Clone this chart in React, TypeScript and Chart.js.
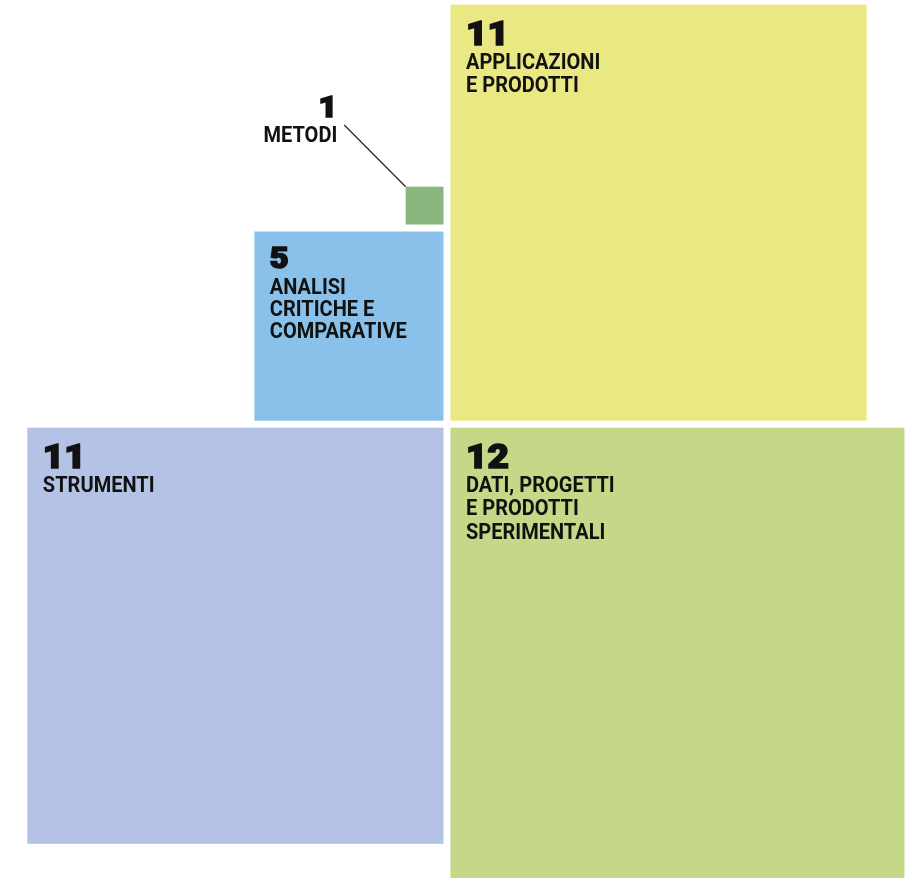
import React, { useEffect, useRef } from "react";
import { Chart, registerables } from "chart.js";
Chart.register(...registerables);

// ---- data ----
const categories = [
  "METODI",
  "ANALISI CRITICHE E COMPARATIVE",
  "APPLICAZIONI E PRODOTTI",
  "STRUMENTI",
  "DATI, PROGETTI E PRODOTTI SPERIMENTALI",
];
const labelLines = [
  ["METODI"],
  ["ANALISI", "CRITICHE E", "COMPARATIVE"],
  ["APPLICAZIONI", "E PRODOTTI"],
  ["STRUMENTI"],
  ["DATI, PROGETTI", "E PRODOTTI", "SPERIMENTALI"],
];
const values = [1, 5, 11, 11, 12];
// placement of each square around the centre
const placement = ["tl-above", "tl", "tr", "bl", "br"];
const colors = ["#8ab77e", "#89c1ea", "#eae883", "#b4c3e5", "#c5d887"];

const HALF_GAP = 0.0925; // in value units

type R = { x0: number; x1: number; y0: number; y1: number };
function rectFor(i: number): R {
  const v = values[i];
  const h = HALF_GAP;
  switch (placement[i]) {
    case "tr":
      return { x0: h, x1: h + v, y0: h, y1: h + v };
    case "tl":
      return { x0: -h - v, x1: -h, y0: h, y1: h + v };
    case "bl":
      return { x0: -h - v, x1: -h, y0: -h - v, y1: -h };
    case "br":
      return { x0: h, x1: h + v, y0: -h - v, y1: -h };
    default: {
      const below = values[placement.indexOf("tl")];
      const y0 = h + below + 2 * h;
      return { x0: -h - v, x1: -h, y0, y1: y0 + v };
    }
  }
}

const numFont = (s: number) => `900 ${s}px Roboto, "DejaVu Sans", sans-serif`;
const labFont = (s: number) => `bold ${s}px Roboto, "DejaVu Sans", sans-serif`;
const LAB_SCALE = 0.89;

function drawNumber(ctx: CanvasRenderingContext2D, t: string, x: number, y: number, size: number) {
  ctx.font = numFont(size);
  ctx.lineJoin = "miter";
  ctx.lineWidth = 1.6;
  ctx.strokeStyle = "#111";
  const w = ctx.measureText(t).width;
  const sx = 1.12;
  ctx.save();
  const ax = ctx.textAlign === "right" ? x - w * sx : x;
  ctx.textAlign = "left";
  ctx.translate(ax, y);
  ctx.scale(sx, 1);
  ctx.fillText(t, 0, 0);
  ctx.strokeText(t, 0, 0);
  ctx.restore();
}

function drawLabel(ctx: CanvasRenderingContext2D, t: string, x: number, y: number, size: number, right: boolean) {
  ctx.font = labFont(size);
  const w = ctx.measureText(t).width * LAB_SCALE;
  ctx.save();
  ctx.textAlign = "left";
  ctx.translate(right ? x - w : x, y);
  ctx.scale(LAB_SCALE, 1);
  ctx.fillText(t, 0, 0);
  ctx.restore();
}

const squaresPlugin = {
  id: "squares",
  afterDatasetsDraw(chart: any) {
    const { ctx } = chart;
    const xs = chart.scales.x;
    const ys = chart.scales.y;
    ctx.save();
    const boxes = values.map((_, i) => {
      const r = rectFor(i);
      const left = xs.getPixelForValue(r.x0);
      const right = xs.getPixelForValue(r.x1);
      const top = ys.getPixelForValue(r.y1);
      const bottom = ys.getPixelForValue(r.y0);
      ctx.fillStyle = colors[i];
      ctx.fillRect(left, top, right - left, bottom - top);
      return { left, right, top, bottom };
    });
    ctx.fillStyle = "#111";
    ctx.textBaseline = "alphabetic";
    values.forEach((v, i) => {
      const b = boxes[i];
      const small = v < 8;
      const nSize = small ? 29 : 33;
      const lSize = 22.5;
      const firstGap = small ? 25.6 : 23.5;
      const lineGap = small ? 21.9 : 23.5;
      if (placement[i] === "tl-above") {
        const rx = b.left - 68.4;
        const base = b.top - 70;
        ctx.textAlign = "right";
        drawNumber(ctx, String(v), rx, base, nSize);
        labelLines[i].forEach((t, k) => drawLabel(ctx, t, rx, base + firstGap + k * lineGap, lSize, true));
        ctx.strokeStyle = "#222";
        ctx.lineWidth = 1.2;
        ctx.beginPath();
        ctx.moveTo(rx + 7, base + 8.3);
        ctx.lineTo(b.left, b.top);
        ctx.stroke();
      } else {
        const lx = b.left + 15.5;
        const base = b.top + (small ? 36.7 : 40.7);
        ctx.textAlign = "left";
        drawNumber(ctx, String(v), lx, base, nSize);
        labelLines[i].forEach((t, k) => drawLabel(ctx, t, lx, base + firstGap + k * lineGap, lSize, false));
      }
    });
    ctx.restore();
  },
};

export default function App() {
  const ref = useRef<HTMLCanvasElement>(null);
  useEffect(() => {
    const chart = new Chart(ref.current!, {
      type: "scatter",
      data: {
        datasets: categories.map((c, i) => {
          const r = rectFor(i);
          return {
            label: c,
            data: [{ x: (r.x0 + r.x1) / 2, y: (r.y0 + r.y1) / 2 }],
            pointRadius: 0,
            backgroundColor: colors[i],
          };
        }),
      },
      options: {
        animation: false,
        responsive: false,
        devicePixelRatio: 1,
        layout: { padding: 0 },
        plugins: { legend: { display: false }, tooltip: { enabled: false } },
        scales: {
          x: { type: "linear", display: false, min: -11.816, max: 12.345 },
          y: { type: "linear", display: false, min: -11.996, max: 11.213 },
        },
      },
      plugins: [squaresPlugin],
    });
    return () => chart.destroy();
  }, []);
  return (
    <div style={{ position: "absolute", left: 0, top: 0, width: 914, height: 878, background: "#fff" }}>
      <canvas ref={ref} width={914} height={878} style={{ display: "block" }} />
    </div>
  );
}
